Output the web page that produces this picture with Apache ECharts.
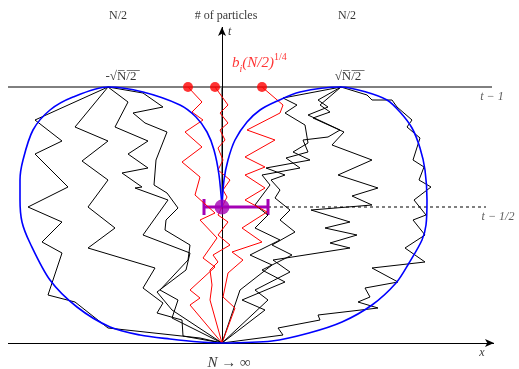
<!DOCTYPE html>
<html>
<head>
<meta charset="utf-8">
<script src="https://cdn.jsdelivr.net/npm/echarts@6/dist/echarts.min.js"></script>
<style>
  html, body { margin: 0; padding: 0; background: #fff; }
  #chart { width: 519px; height: 369px; }
</style>
</head>
<body>
<div id="chart"></div>
<script>
// coordinates: [x offset from particle axis, height above base line]; t = 1 sits at height 256
var T1 = 256, THALF = 136;

var blackWalks = [
  [[-114,256],[-187,223],[-160,202],[-187,189],[-154,156],[-194,136],[-160,121],[-180,101],[-160,90],[-174,48],[-147,41],[-114,15],[-22,5],[0,0]],
  [[-114,256],[-147,216],[-114,202],[-140,182],[-114,163],[-134,136],[-107,115],[-134,95],[-67,75],[-79,55],[-59,40],[-65,30],[-40,23],[-39,7],[0,0]],
  [[-114,256],[-94,241],[-107,216],[-74,202],[-94,189],[-74,175],[-100,170],[-80,156],[-87,155],[-54,143],[-79,108],[-32,90],[-36,73],[-65,51],[-50,33],[0,0]],
  [[-114,256],[-79,250],[-59,236],[-89,230],[-77,220],[-55,211],[-66,183],[-68,158],[-55,150],[-44,135],[-56,123],[-57,113],[-32,98],[-34,83],[-62,53],[-44,43],[-50,25],[0,0]],
  [[119,256],[145,248],[150,243],[170,243],[175,236],[190,223],[185,216],[198,205],[191,183],[202,176],[197,163],[209,156],[192,143],[204,128],[191,123],[203,108],[183,95],[203,81],[150,75],[176,61],[143,55],[148,46],[136,41],[156,35],[96,28],[98,23],[56,15],[61,8],[0,0]],
  [[119,256],[61,245],[75,238],[63,230],[83,218],[86,200],[71,191],[88,183],[44,175],[63,168],[49,163],[58,153],[53,145],[68,133],[58,123],[73,111],[50,98],[70,88],[40,73],[63,61],[20,43],[43,33],[0,0]],
  [[119,256],[96,243],[106,236],[86,228],[118,213],[106,206],[81,203],[86,191],[64,185],[78,175],[40,168],[48,158],[33,138],[46,128],[33,115],[58,103],[28,88],[50,78],[18,53],[0,0]],
  [[119,256],[98,238],[108,231],[91,225],[122,211],[110,198],[150,183],[116,168],[156,155],[130,147],[150,138],[89,133],[128,121],[103,115],[135,108],[108,100],[128,95],[51,83],[68,71],[33,53],[46,43],[0,0]]
];

var redWalks = [
  [[-34,256],[-20,241],[-30,231],[-19,223],[-37,211],[-20,196],[-40,181],[-22,166],[-27,148],[-7,130],[-22,123],[-5,105],[-19,85],[-7,76],[-32,53],[-22,45],[-32,38],[0,0]],
  [[-7,256],[6,238],[-2,230],[6,220],[-2,213],[3,203],[-4,195],[1,183],[-4,173],[8,163],[1,153],[5,146],[-4,128],[6,121],[-4,108],[8,98],[-9,88],[-4,81],[-12,73],[-10,58],[-12,43],[0,0]],
  [[40,256],[61,238],[58,230],[25,213],[53,203],[23,186],[43,176],[23,168],[43,155],[23,143],[45,131],[20,115],[40,101],[10,91],[21,83],[6,70],[1,46],[13,35],[0,0]]
];

var redStarts = [[-34,256],[-7,256],[40,256]];

var blueLeft = [[0,0],[-22,1],[-52,4],[-82,8],[-112,16],[-145,36],[-172,63],[-192,100],[-200,121],[-202,143],[-202,163],[-199,183],[-189,213],[-172,233],[-149,246],[-114,256],[-79,251],[-42,238],[-26,226],[-15,211],[-8,193],[-3,168],[0,136]];
var blueRight = [[0,136],[2,163],[6,183],[13,203],[25,221],[38,233],[53,241],[78,251],[119,256],[144,251],[165,243],[178,231],[190,215],[198,195],[203,173],[205,143],[204,118],[200,103],[187,80],[174,60],[150,38],[120,21],[87,10],[50,2],[0,0]];

var errorBar = [-18, 46];
var centre = [0, THALF];

var texts = ['N/2', '# of particles', 'N/2', 't', '{it|b}{sub|i}{n|(N/2)}{sup|1/4}', '-√N̅/̅2̅', '√N̅/̅2̅', 't − 1', 't − 1/2', 'N → ∞', 'x'];
var textAt = [[-104,327],[4,327],[125,327],[6,311],[10,280],[-101,266],[126,266],[270,246],[276,126],[7,-20],[260,-10]];

var chart = echarts.init(document.getElementById('chart'));

var serif = 'Liberation Serif';
var series = [];

function seg(a, b, style) {
  return {
    type: 'line', data: [a, b], symbol: 'none', silent: true,
    lineStyle: style, z: 3
  };
}

// frame lines
series.push(seg([-214, T1], [270, T1], { color: '#000', width: 1 }));
series.push(seg([46, THALF], [264, THALF], { color: '#555', width: 1.5, type: [3, 3] }));
series.push({
  type: 'line', data: [], silent: true,
  markLine: {
    silent: true, symbol: ['none', 'arrow'], symbolSize: [6, 9], animation: false,
    label: { show: false },
    lineStyle: { color: '#000', width: 1, type: 'solid' },
    data: [
      [{ coord: [-214, 0] }, { coord: [272, 0] }],
      [{ coord: [0, 0] }, { coord: [0, 316] }]
    ]
  }
});
series.push(seg([0, THALF], [0, T1], { color: '#888', width: 2 }));

blackWalks.forEach(function (w) {
  series.push({ type: 'line', data: w, symbol: 'none', silent: true, lineStyle: { color: '#000', width: 1 }, z: 4 });
});
redWalks.forEach(function (w) {
  series.push({ type: 'line', data: w, symbol: 'none', silent: true, lineStyle: { color: '#ff0000', width: 1 }, z: 5 });
});
[blueLeft, blueRight].forEach(function (c) {
  series.push({ type: 'line', data: c, symbol: 'none', smooth: 0.3, silent: true, lineStyle: { color: '#0000ff', width: 1.6 }, z: 6 });
});

series.push({ type: 'scatter', data: redStarts, symbolSize: 10, itemStyle: { color: '#ff0000' }, z: 7 });

// error bar with caps and centre dot
series.push(seg([errorBar[0], THALF], [errorBar[1], THALF], { color: '#a400b4', width: 3 }));
series.push(seg([errorBar[0], THALF + 8], [errorBar[0], THALF - 8], { color: '#a400b4', width: 3 }));
series.push(seg([errorBar[1], THALF + 8], [errorBar[1], THALF - 8], { color: '#a400b4', width: 3 }));
series.push({ type: 'scatter', data: [centre], symbolSize: 15, itemStyle: { color: '#a400b4' }, z: 8 });

// text labels
series.push({
  type: 'scatter', symbolSize: 0, silent: true, z: 9,
  data: texts.map(function (s, i) {
    var item = { value: textAt[i], label: { formatter: s } };
    if (i === 3 || i === 9 || i === 7 || i === 8 || i === 10) item.label.fontStyle = 'italic';
    if (i === 4 || i === 3) item.label.align = 'left';
    if (i === 9) item.label.fontSize = 15;
    if (i === 5 || i === 6) item.label.fontSize = 13;
    if (i === 7 || i === 8) item.label.color = '#333';
    return item;
  }),
  label: {
    show: true, position: 'inside', align: 'center', verticalAlign: 'middle',
    fontFamily: serif, fontSize: 12, color: '#000',
    rich: {
      it: { fontFamily: serif, fontSize: 15, fontStyle: 'italic', color: '#ff0000' },
      n: { fontFamily: serif, fontSize: 15, fontStyle: 'italic', color: '#ff0000' },
      sub: { fontFamily: serif, fontSize: 10, fontStyle: 'italic', color: '#ff0000', verticalAlign: 'bottom', lineHeight: 22 },
      sup: { fontFamily: serif, fontSize: 10, color: '#ff0000', verticalAlign: 'top', lineHeight: 22 }
    }
  }
});

chart.setOption({
  animation: false,
  grid: { left: 0, right: 0, top: 0, bottom: 0 },
  xAxis: { type: 'value', min: -222, max: 297, show: false },
  yAxis: { type: 'value', min: -26, max: 343, show: false },
  series: series
});
</script>
</body>
</html>
